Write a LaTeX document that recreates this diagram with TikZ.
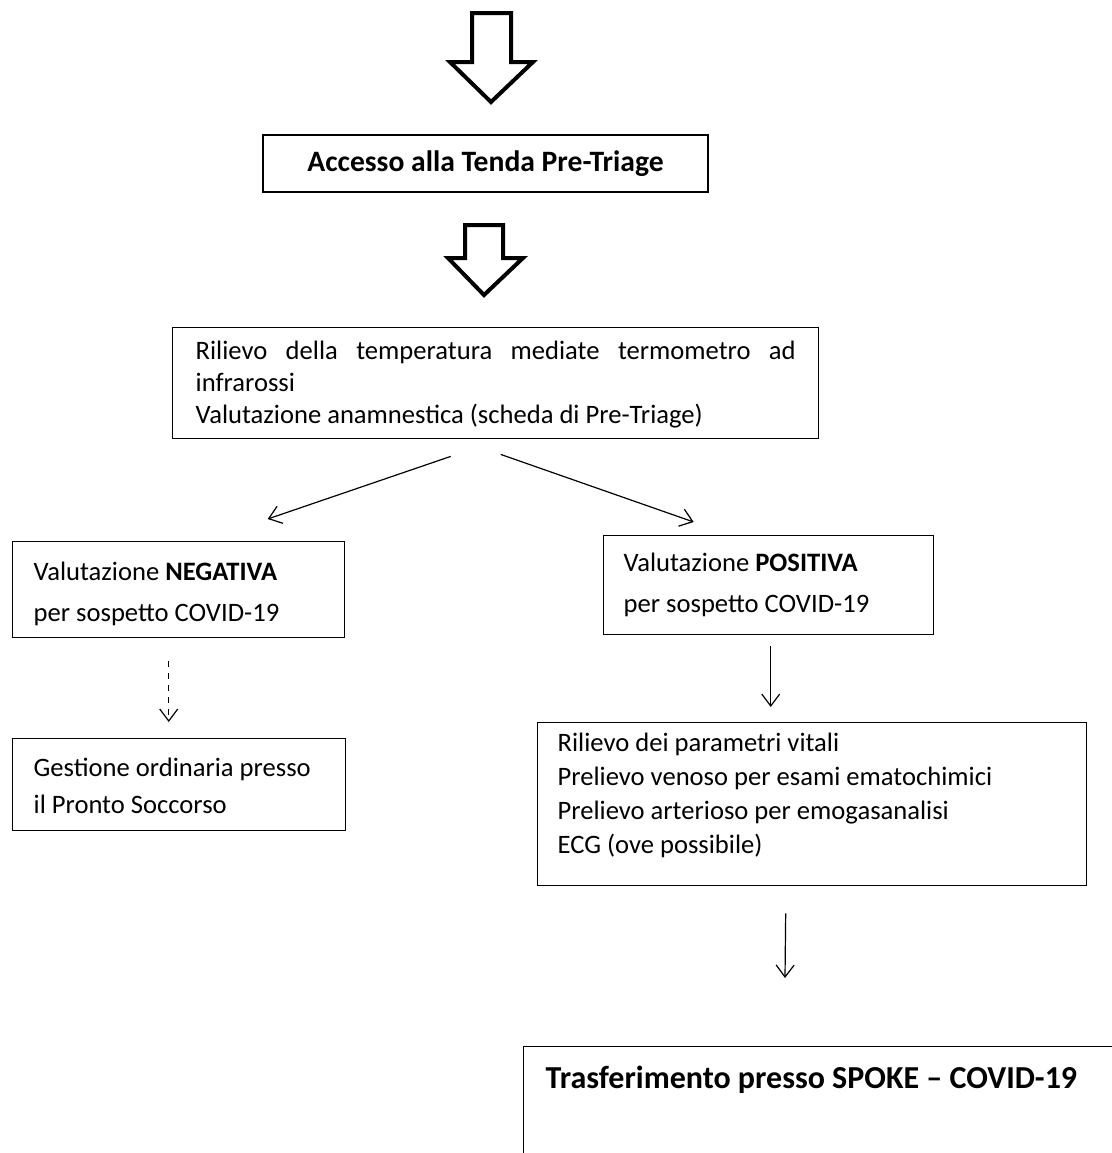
\documentclass[tikz,border=0pt]{standalone}
\usepackage{fontspec}
\setmainfont{Carlito}
\usetikzlibrary{arrows.meta}

% top-aligned text block of fixed size inside a box
\newcommand{\boxtext}[3]{\begin{minipage}[t][#1][t]{#2}\tolerance=10000\hyphenpenalty=10000 #3\end{minipage}}

\begin{document}
\begin{tikzpicture}[x=0.5pt,y=-0.5pt,
    box/.style={rectangle,draw,line width=0.7pt,anchor=north west,font=\fontsize{13.3}{17}\selectfont},
    titlebox/.style={rectangle,draw,line width=0.7pt,minimum width=222.5pt,minimum height=28.5pt,font=\bfseries\fontsize{14.8}{17}\selectfont},
    hollow/.style={line width=2pt,fill=white},
    conn/.style={-{Straight Barb[length=6pt,width=9pt]},line width=0.6pt}
]

% === Page ===
\useasboundingbox (0,0) rectangle (1112,1153);

% === Entry arrow ===
\draw[hollow] (472,13) -- (472,62) -- (450,62) -- (491,102) -- (533,62) -- (511,62) -- (511,13) -- cycle;

% === Pre-Triage tent ===
\node[titlebox] (tenda) at (485.5,163.5) {Accesso alla Tenda Pre-Triage};

\draw[hollow] (465,225) -- (465,258) -- (448,258) -- (484,295) -- (523,258) -- (503,258) -- (503,225) -- cycle;

% === First assessment ===
\node[box,inner xsep=11.5pt,inner ysep=6.8pt,font=\fontsize{13.3}{16}\selectfont] (rilievo) at (172,327)
    {\boxtext{41.9pt}{300pt}{Rilievo della temperatura mediate termometro ad infrarossi\\
    Valutazione anamnestica (scheda di Pre-Triage)}};

% === Negative branch ===
\node[box,inner xsep=10.5pt,inner ysep=10.3pt,font=\fontsize{13.3}{20.5}\selectfont] (neg) at (12,541)
    {\boxtext{27.4pt}{145pt}{Valutazione \textbf{NEGATIVA}\\ per sospetto COVID-19}};
\node[box,inner xsep=10.5pt,inner ysep=9.8pt,font=\fontsize{13.3}{18.5}\selectfont] (gestione) at (12,738)
    {\boxtext{26.4pt}{145.5pt}{Gestione ordinaria presso\\ il Pronto Soccorso}};

% === Positive branch ===
\node[box,inner xsep=10pt,inner ysep=8.8pt,font=\fontsize{13.3}{20.5}\selectfont] (pos) at (603,535)
    {\boxtext{31.9pt}{145pt}{Valutazione \textbf{POSITIVA}\\ per sospetto COVID-19}};
\node[box,inner xsep=10pt,inner ysep=5.3pt,font=\fontsize{13.3}{17}\selectfont] (vitali) at (537,722)
    {\boxtext{70.9pt}{254.5pt}{Rilievo dei parametri vitali\\
    Prelievo venoso per esami ematochimici\\
    Prelievo arterioso per emogasanalisi\\
    ECG (ove possibile)}};
\node[box,inner xsep=11pt,inner ysep=9.6pt,font=\bfseries\fontsize{16}{18}\selectfont] (spoke) at (523,1046)
    {\boxtext{120pt}{330pt}{Trasferimento presso SPOKE – COVID-19}};

% === Connectors ===
\draw[conn] ([shift={(-45,17)}]rilievo.south) -- ([shift={(89,-22)}]neg.north);
\draw[conn] ([shift={(5,15)}]rilievo.south) -- ([shift={(-75,-13)}]pos.north);
\draw[conn,dashed] ([shift={(-10,23)}]neg.south) -- ([shift={(-10.5,-16)}]gestione.north);
\draw[conn] ([shift={(2,11)}]pos.south) -- ([shift={(-41.5,-15)}]vitali.north);
\draw[conn] ([shift={(-26.5,27)}]vitali.south) -- ([shift={(262,-68)}]spoke.north west);

\end{tikzpicture}
\end{document}
